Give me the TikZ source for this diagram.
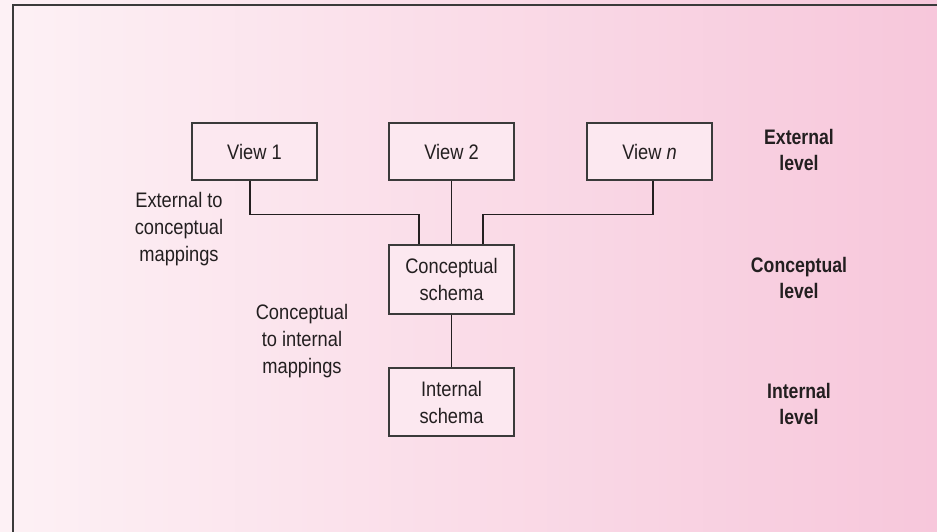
\documentclass[tikz,border=0pt]{standalone}
\usepackage{fontspec}
\setmainfont[FakeStretch=0.87,BoldFeatures={FakeStretch=0.84}]{Liberation Sans}
\usetikzlibrary{calc}
\definecolor{txt}{HTML}{231F20}
\definecolor{bgl}{HTML}{FDF1F5}
\definecolor{bgr}{HTML}{F7C7DB}
\definecolor{boxfill}{HTML}{FCE8F0}
\definecolor{frame}{HTML}{3A3A3A}
\begin{document}
\begin{tikzpicture}[x=1pt,y=-1pt,
  every node/.style={font=\fontsize{21}{27}\selectfont, text=txt},
  box/.style={draw=frame, line width=1.3pt, fill=boxfill, minimum width=125pt, align=center, inner sep=0pt},
  lbl/.style={align=center},
  lvl/.style={align=center, font=\fontsize{21}{26}\selectfont\bfseries},
  wire/.style={draw=txt, line width=1.3pt}]
\useasboundingbox (0,0) rectangle (937,532);
\shade[left color=bgl, right color=bgr] (0,0) rectangle (937,532);
\draw[frame, line width=2pt] (13,540) -- (13,5) -- (945,5);

\node[box, minimum height=57pt] (v1) at (254.5,151.5) {View 1};
\node[box, minimum height=57pt] (v2) at (451.5,151.5) {View 2};
\node[box, minimum height=57pt] (vn) at (649.5,151.5) {View \textit{n}};
\node[box, minimum height=69pt] (cs) at (451.5,279.5) {Conceptual\\schema};
\node[box, minimum height=68pt] (is) at (451.5,402) {Internal\\schema};

\draw[wire] ([xshift=-4.5pt]v1.south) -- ++(0,34) -| ([xshift=-32.5pt]cs.north);
\draw[wire] (v2.south) -- (cs.north);
\draw[wire] ([xshift=3.5pt]vn.south) -- ++(0,34) -| ([xshift=31.5pt]cs.north);
\draw[wire] (cs.south) -- (is.north);

\node[lbl] (m1) at (179,229) {External to\\conceptual\\mappings};
\node[lbl] (m2) at (302,341) {Conceptual\\to internal\\mappings};

\node[lvl] (l1) at (799,150) {External\\level};
\node[lvl] (l2) at (799,278) {Conceptual\\level};
\node[lvl] (l3) at (799,404) {Internal\\level};
\end{tikzpicture}
\end{document}
